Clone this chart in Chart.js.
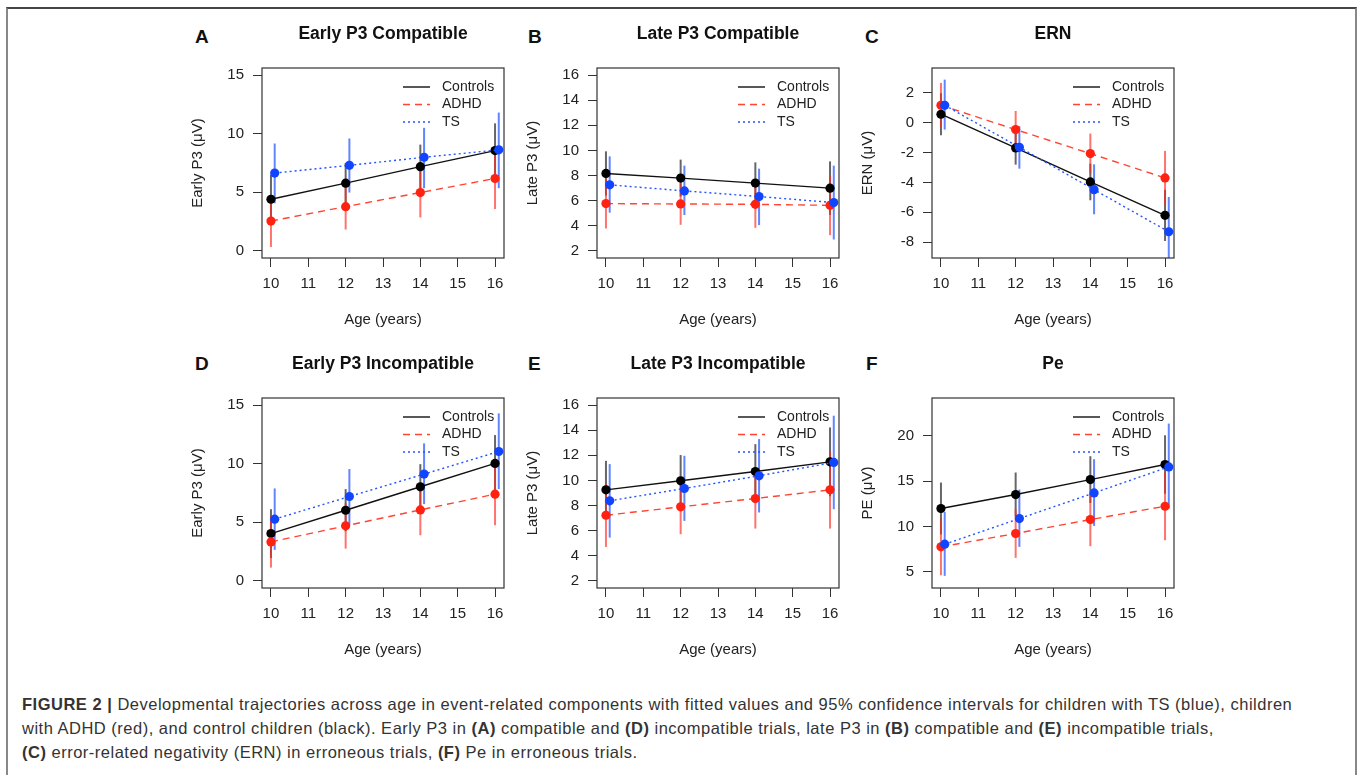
<!DOCTYPE html>
<html>
<head>
<meta charset="utf-8">
<script src="https://cdn.jsdelivr.net/npm/chart.js@4.4.1/dist/chart.umd.min.js"></script>
<style>
  body { margin: 0; background: #fff; width: 1357px; height: 775px; overflow: hidden; position: relative; font-family: "Liberation Sans", Arial, sans-serif; }
  .frame { position: absolute; left: 6px; top: 7px; width: 1347px; height: 800px; border: 2px solid #888; border-top-color: #444; }
  canvas { position: absolute; }
  .tag { position: absolute; font-weight: bold; font-size: 19px; line-height: 20px; color: #111; }
  .caption { position: absolute; left: 22px; top: 692px; font-size: 16.5px; letter-spacing: 0.5px; line-height: 24px; color: #333; white-space: nowrap; }
</style>
</head>
<body>
<div class="frame"></div>
<div class="tag" style="left:195px;top:27px">A</div>
<div class="tag" style="left:528px;top:27px">B</div>
<div class="tag" style="left:865px;top:27px">C</div>
<div class="tag" style="left:195px;top:354px">D</div>
<div class="tag" style="left:528px;top:354px">E</div>
<div class="tag" style="left:866px;top:354px">F</div>
<div class="caption"><b>FIGURE 2 |</b> Developmental trajectories across age in event-related components with fitted values and 95% confidence intervals for children with TS (blue), children<br>with ADHD (red), and control children (black). Early P3 in <b>(A)</b> compatible and <b>(D)</b> incompatible trials, late P3 in <b>(B)</b> compatible and <b>(E)</b> incompatible trials,<br><b>(C)</b> error-related negativity (ERN) in erroneous trials, <b>(F)</b> Pe in erroneous trials.</div>
<script>
const ages = [10, 12, 14, 16];
const ageTicks = [10, 11, 12, 13, 14, 15, 16];
const tsShift = 0.1;
const groups = ['Controls', 'ADHD', 'TS'];

// rows: Controls, ADHD, TS
const aFit = [[4.41, 5.78, 7.19, 8.56], [2.55, 3.78, 4.98, 6.18], [6.64, 7.30, 7.99, 8.62]];
const aLow = [[2.30, 4.06, 5.30, 6.24], [0.34, 1.83, 2.86, 3.58], [4.07, 4.98, 5.35, 5.35]];
const aHigh = [[6.50, 7.50, 9.07, 10.88], [4.76, 5.73, 7.10, 8.78], [9.16, 9.59, 10.50, 11.80]];

const bFit = [[8.17, 7.80, 7.40, 7.00], [5.77, 5.74, 5.71, 5.63], [7.26, 6.78, 6.33, 5.85]];
const bLow = [[6.41, 6.33, 5.75, 4.87], [3.79, 4.08, 3.84, 3.26], [5.05, 4.86, 4.06, 2.91]];
const bHigh = [[9.93, 9.27, 9.05, 9.13], [7.75, 7.40, 7.58, 8.00], [9.53, 8.79, 8.55, 8.79]];

const cFit = [[0.57, -1.69, -3.97, -6.21], [1.17, -0.46, -2.07, -3.70], [1.17, -1.65, -4.49, -7.31]];
const cLow = [[-0.84, -2.81, -5.20, -7.93], [-0.33, -1.71, -3.41, -5.51], [-0.46, -3.08, -6.14, -9.60]];
const cHigh = [[1.98, -0.57, -2.74, -4.50], [2.67, 0.79, -0.73, -1.89], [2.89, -0.24, -2.79, -4.98]];

const dFit = [[4.04, 6.03, 8.03, 10.02], [3.33, 4.70, 6.06, 7.40], [5.27, 7.20, 9.11, 11.04]];
const dLow = [[1.96, 4.23, 6.10, 7.60], [1.14, 2.76, 3.90, 4.75], [2.65, 4.78, 6.55, 7.83]];
const dHigh = [[6.12, 7.83, 9.96, 12.44], [5.52, 6.64, 8.22, 10.05], [7.89, 9.54, 11.73, 14.29]];

const eFit = [[9.25, 9.97, 10.71, 11.48], [7.23, 7.90, 8.56, 9.25], [8.38, 9.36, 10.37, 11.43]];
const eLow = [[6.94, 7.92, 8.53, 8.74], [4.71, 5.72, 6.17, 6.17], [5.45, 6.78, 7.45, 7.71]];
const eHigh = [[11.56, 12.02, 12.89, 14.22], [9.75, 10.08, 10.95, 12.33], [11.30, 11.96, 13.29, 15.15]];

const fFit = [[11.99, 13.53, 15.18, 16.84], [7.76, 9.23, 10.77, 12.24], [8.05, 10.88, 13.71, 16.58]];
const fLow = [[9.13, 11.10, 12.60, 13.61], [4.63, 6.54, 7.83, 8.49], [4.56, 7.76, 10.07, 11.99]];
const fHigh = [[14.85, 15.96, 17.76, 20.07], [10.89, 11.92, 13.71, 15.99], [11.62, 14.08, 17.43, 21.36]];

const ticksEarly = [0, 5, 10, 15];
const ticksLate = [2, 4, 6, 8, 10, 12, 14, 16];
const ticksErn = [-8, -6, -4, -2, 0, 2];
const ticksPe = [5, 10, 15, 20];

const pointColors = ['#000000', '#ff2211', '#1144ff'];
const lineColors = ['#111111', '#ff4433', '#2255ff'];
const barColors = ['rgba(0,0,0,0.6)', 'rgba(255,40,30,0.65)', 'rgba(30,80,255,0.7)'];
const dashes = [[], [7, 5], [2, 3]];

const panels = [
  { title: 'Early P3 Compatible', yTitle: 'Early P3 (μV)', fit: aFit, low: aLow, high: aHigh, yTicks: ticksEarly, yMin: -0.6, yMax: 15.6, left: 262, top: 68 },
  { title: 'Late P3 Compatible', yTitle: 'Late P3 (μV)', fit: bFit, low: bLow, high: bHigh, yTicks: ticksLate, yMin: 1.44, yMax: 16.56, left: 597, top: 68 },
  { title: 'ERN', yTitle: 'ERN (μV)', fit: cFit, low: cLow, high: cHigh, yTicks: ticksErn, yMin: -9.07, yMax: 3.67, left: 932, top: 68 },
  { title: 'Early P3 Incompatible', yTitle: 'Early P3 (μV)', fit: dFit, low: dLow, high: dHigh, yTicks: ticksEarly, yMin: -0.6, yMax: 15.6, left: 262, top: 398 },
  { title: 'Late P3 Incompatible', yTitle: 'Late P3 (μV)', fit: eFit, low: eLow, high: eHigh, yTicks: ticksLate, yMin: 1.44, yMax: 16.56, left: 597, top: 398 },
  { title: 'Pe', yTitle: 'PE (μV)', fit: fFit, low: fLow, high: fHigh, yTicks: ticksPe, yMin: 3.22, yMax: 24.18, left: 932, top: 398 }
];

Chart.defaults.font.family = '"Liberation Sans", Arial, sans-serif';
Chart.defaults.font.size = 15;
Chart.defaults.color = '#222';

// vertical confidence intervals, under the lines and points
const errorBars = {
  id: 'errorBars',
  beforeDatasetsDraw(chart) {
    const { ctx, chartArea: a, scales: { y } } = chart;
    ctx.save();
    ctx.beginPath();
    ctx.rect(a.left, a.top, a.width, a.height);
    ctx.clip();
    ctx.lineWidth = 2;
    chart.data.datasets.forEach((ds, i) => {
      const meta = chart.getDatasetMeta(i);
      ctx.strokeStyle = ds.barColor;
      meta.data.forEach((pt, j) => {
        ctx.beginPath();
        ctx.moveTo(pt.x, y.getPixelForValue(ds.low[j]));
        ctx.lineTo(pt.x, y.getPixelForValue(ds.high[j]));
        ctx.stroke();
      });
    });
    ctx.restore();
  }
};

// box round the plot + legend inside the top right corner
const boxAndKey = {
  id: 'boxAndKey',
  afterDatasetsDraw(chart) {
    const { ctx, chartArea: a } = chart;
    ctx.save();
    ctx.strokeStyle = '#333';
    ctx.lineWidth = 1.2;
    ctx.strokeRect(a.left, a.top, a.width, a.height);
    ctx.font = '14px "Liberation Sans", Arial, sans-serif';
    ctx.textBaseline = 'middle';
    ctx.fillStyle = '#222';
    chart.data.datasets.forEach((ds, i) => {
      const yy = a.top + 19 + i * 17.5;
      ctx.strokeStyle = ds.borderColor;
      ctx.lineWidth = 1.4;
      ctx.setLineDash(ds.borderDash);
      ctx.beginPath();
      ctx.moveTo(a.right - 101, yy);
      ctx.lineTo(a.right - 74, yy);
      ctx.stroke();
      ctx.setLineDash([]);
      ctx.fillText(ds.label, a.right - 62, yy);
    });
    ctx.restore();
  }
};

panels.forEach(p => {
  const cv = document.createElement('canvas');
  cv.width = 335;
  cv.height = 320;
  cv.style.left = (p.left - 82) + 'px';
  cv.style.top = (p.top - 48) + 'px';
  document.body.appendChild(cv);

  const datasets = groups.map((g, k) => ({
    label: g,
    data: ages.map((age, j) => ({ x: age + (k === 2 ? tsShift : 0), y: p.fit[k][j] })),
    low: p.low[k],
    high: p.high[k],
    barColor: barColors[k],
    showLine: true,
    borderColor: lineColors[k],
    borderDash: dashes[k],
    borderWidth: 1.4,
    pointRadius: 4.6,
    pointBorderWidth: 0,
    pointBackgroundColor: pointColors[k],
    order: 3 - k
  }));

  new Chart(cv, {
    type: 'scatter',
    data: { datasets },
    options: {
      responsive: false,
      animation: false,
      devicePixelRatio: 1,
      layout: { padding: { left: 0, top: 0, right: 11, bottom: 0 } },
      plugins: {
        legend: { display: false },
        tooltip: { enabled: false },
        title: {
          display: true, text: p.title, fullSize: false, color: '#111',
          font: { size: 17.5, weight: 'bold' }, padding: { top: 3.5, bottom: 23.5 }
        }
      },
      scales: {
        x: {
          type: 'linear', min: 9.76, max: 16.24,
          afterFit: s => { s.height = 82; },
          afterBuildTicks: s => { s.ticks = ageTicks.map(v => ({ value: v })); },
          grid: { drawOnChartArea: false, tickLength: 9, color: '#333' },
          border: { display: false },
          ticks: { padding: 8, maxRotation: 0, autoSkip: false },
          title: { display: true, text: 'Age (years)', padding: { bottom: 11 } }
        },
        y: {
          type: 'linear', min: p.yMin, max: p.yMax,
          afterFit: s => { s.width = 82; },
          afterBuildTicks: s => { s.ticks = p.yTicks.map(v => ({ value: v })); },
          grid: { drawOnChartArea: false, tickLength: 9, color: '#333' },
          border: { display: false },
          ticks: { padding: 9, autoSkip: false },
          title: { display: true, text: p.yTitle, padding: { top: 9.3 } }
        }
      }
    },
    plugins: [errorBars, boxAndKey]
  });
});
</script>
</body>
</html>
